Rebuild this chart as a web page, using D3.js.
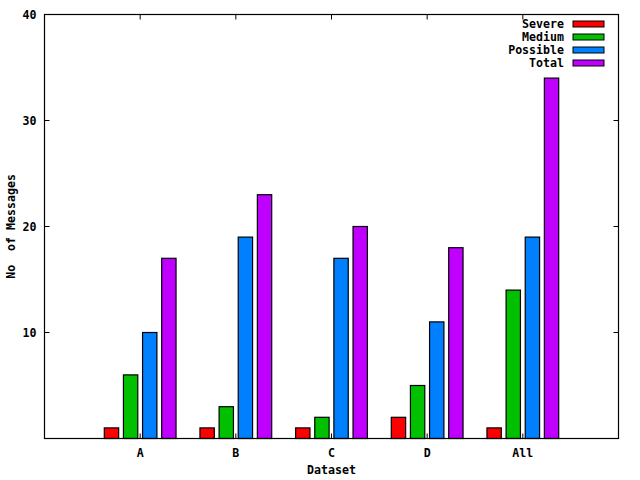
<!DOCTYPE html>
<html lang="en">
<head>
  <meta charset="UTF-8">
  <title>No of Messages per Dataset</title>
  <script src="https://cdnjs.cloudflare.com/ajax/libs/d3/7.8.5/d3.min.js"></script>
  <style>
    body { margin:0; background:#fff; }
    svg text { font-family:"DejaVu Sans Mono", monospace; font-weight:bold; font-size:11.6px; fill:#000; }
  </style>
</head>
<body>
  <svg id="chart" width="640" height="480"></svg>
  <script>
    // values
    var categories = ["A", "B", "C", "D", "All"]
    var seriesNames = ["Severe", "Medium", "Possible", "Total"]
    var severe   = [1, 1, 1, 2, 1]
    var medium   = [6, 3, 2, 5, 14]
    var possible = [10, 19, 17, 11, 19]
    var total    = [17, 23, 20, 18, 34]
    var yTicks = [10, 20, 30, 40]

    var colors = ["#ff0000", "#00c000", "#0080ff", "#c000ff"]
    var series = [severe, medium, possible, total]

    var margin = { top:14.5, right:21.5, bottom:41.5, left:44.5 }
    var width = 640 - margin.left - margin.right
    var height = 480 - margin.top - margin.bottom

    var svg = d3.select("#chart")
    var g = svg.append("g")
                .attr("transform", `translate(${margin.left},${margin.top})`)

    var x = d3.scaleLinear().domain([0, 6]).range([0, width])
    var y = d3.scaleLinear().domain([0, 40]).range([height, 0])

    // bars (gnuplot clustered histogram: gap 1, boxwidth 0.75)
    var step = 0.2, bw = 0.15
    series.forEach(function(vals, s) {
      g.selectAll(".bar" + s)
        .data(vals)
        .enter().append("rect")
        .attr("x", (d, i) => x(i + 1 + (s - 1.5) * step - bw / 2))
        .attr("width", x(bw) - x(0))
        .attr("y", d => y(d))
        .attr("height", d => y(0) - y(d))
        .attr("fill", colors[s])
        .attr("stroke", "#000")
        .attr("stroke-width", 1.2)
    })

    // y axis ticks, both sides inward
    yTicks.forEach(function(t) {
      g.append("line").attr("x1", 0).attr("x2", 5).attr("y1", y(t)).attr("y2", y(t)).attr("stroke", "#000")
      g.append("line").attr("x1", width).attr("x2", width - 5).attr("y1", y(t)).attr("y2", y(t)).attr("stroke", "#000")
      g.append("text").attr("x", -8).attr("y", y(t)).attr("dy", "0.35em")
        .attr("text-anchor", "end").text(t)
    })

    // x ticks, bottom and top inward
    categories.forEach(function(c, i) {
      var xp = x(i + 1)
      g.append("line").attr("x1", xp).attr("x2", xp).attr("y1", height).attr("y2", height - 5).attr("stroke", "#000")
      g.append("line").attr("x1", xp).attr("x2", xp).attr("y1", 0).attr("y2", 5).attr("stroke", "#000")
      g.append("text").attr("x", xp).attr("y", height + 18)
        .attr("text-anchor", "middle").text(c)
    })

    // frame
    g.append("rect").attr("width", width).attr("height", height)
      .attr("fill", "none").attr("stroke", "#000").attr("stroke-width", 1.2)

    // axis titles
    svg.append("text").attr("x", margin.left + width / 2).attr("y", 474)
      .attr("text-anchor", "middle").text("Dataset")
    svg.append("text").attr("transform", `translate(15,${margin.top + height / 2}) rotate(-90)`)
      .attr("text-anchor", "middle").attr("xml:space", "preserve").text("No  of Messages")

    // legend
    var legend = svg.append("g")
    seriesNames.forEach(function(n, s) {
      var ly = 24 + s * 13
      legend.append("text").attr("x", 564).attr("y", ly).attr("dy", "0.35em")
        .attr("text-anchor", "end").text(n)
      legend.append("rect").attr("x", 573).attr("y", ly - 3).attr("width", 31).attr("height", 6)
        .attr("fill", colors[s]).attr("stroke", "#000").attr("stroke-width", 1)
    })
  </script>
</body>
</html>
